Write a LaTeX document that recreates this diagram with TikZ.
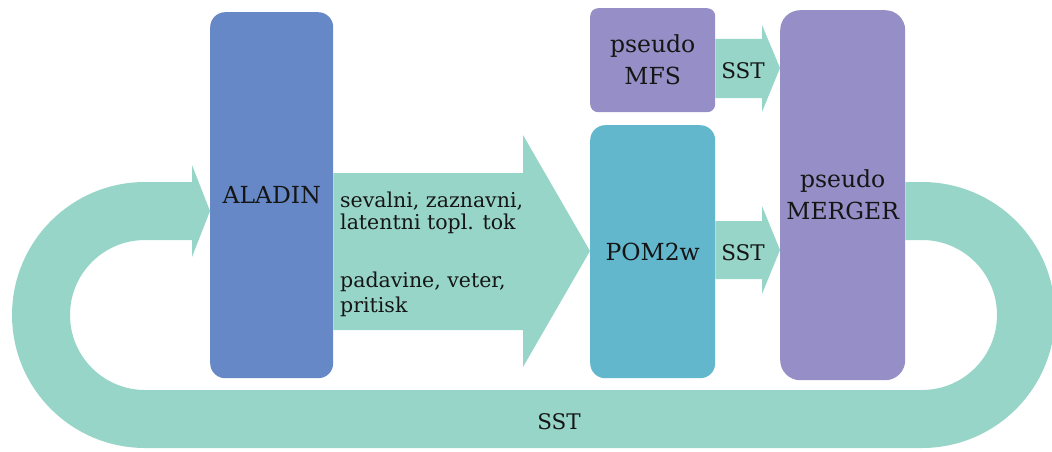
\documentclass[tikz,border=0pt]{standalone}
\usepackage{fontspec}
\setmainfont{DejaVu Serif}
\definecolor{flowc}{HTML}{97D5C8}
\definecolor{aladinc}{HTML}{6788C6}
\definecolor{pomc}{HTML}{63B7CD}
\definecolor{lavc}{HTML}{968EC6}
\definecolor{inkc}{HTML}{151515}
\begin{document}
\begin{tikzpicture}[x=1pt,y=-1pt,
  box/.style={anchor=north west, inner sep=0pt, minimum width=125pt,
    rounded corners=15pt, align=center, text=inkc,
    font=\fontsize{23.5}{32}\selectfont},
  flow/.style={fill=flowc},
  loopband/.style={draw=flowc, line width=58pt},
  lbl/.style={inner sep=0pt, anchor=base, text=inkc, font=\fontsize{21.5}{25}\selectfont},
  flowtext/.style={inner sep=0pt, anchor=base west, align=left, text=inkc,
    font=\fontsize{20.5}{25}\selectfont}]
\useasboundingbox (0,0) rectangle (1052,452);
\clip (0,0) rectangle (1052,452);

% model boxes
\node[box, minimum width=123pt, minimum height=366pt, fill=aladinc] (aladin) at (210,12) {ALADIN};
\node[box, minimum height=104pt, rounded corners=8pt, fill=lavc] (mfs) at (590,8) {pseudo\\MFS};
\node[box, minimum height=253pt, fill=pomc] (pom) at (590,125) {POM2w};
\node[box, minimum height=370pt, rounded corners=20pt, fill=lavc] (merger) at (780,10) {pseudo\\MERGER};

% feedback loop from MERGER round to ALADIN
\draw[loopband] (merger.east |- 0,211) -- (922,211)
  arc[start angle=90, end angle=-90, radius=104pt] -- (145,419)
  arc[start angle=-90, end angle=-270, radius=104pt] -- (193,211);
\fill[flow] (192,165) -- (aladin.west |- 0,211) -- (192,257) -- cycle;
\node[lbl] (sstloop) at (559,429) {SST};

% forcing from ALADIN to POM2w (base anchor sits on the last line)
\fill[flow] (aladin.east |- 0,173) -- (523,173) -- (523,135)
  -- (pom.west |- 0,251) -- (523,367) -- (523,330) -- (aladin.east |- 0,330) -- cycle;
\node[flowtext] (flux) at (340,229) {sevalni, zaznavni,\\[-3pt]latentni topl. tok};
\node[flowtext] (atm) at (340,312) {padavine, veter,\\pritisk};

% SST from MFS and POM2w into MERGER
\fill[flow] (mfs.east |- 0,39) -- (762,39) -- (762,25)
  -- (merger.west |- 0,68) -- (762,112) -- (762,98) -- (mfs.east |- 0,98) -- cycle;
\node[lbl] (sstmfs) at (743,78) {SST};
\fill[flow] (pom.east |- 0,221) -- (762,221) -- (762,206)
  -- (merger.west |- 0,250) -- (762,294) -- (762,279) -- (pom.east |- 0,279) -- cycle;
\node[lbl] (sstpom) at (743,260) {SST};
\end{tikzpicture}
\end{document}
